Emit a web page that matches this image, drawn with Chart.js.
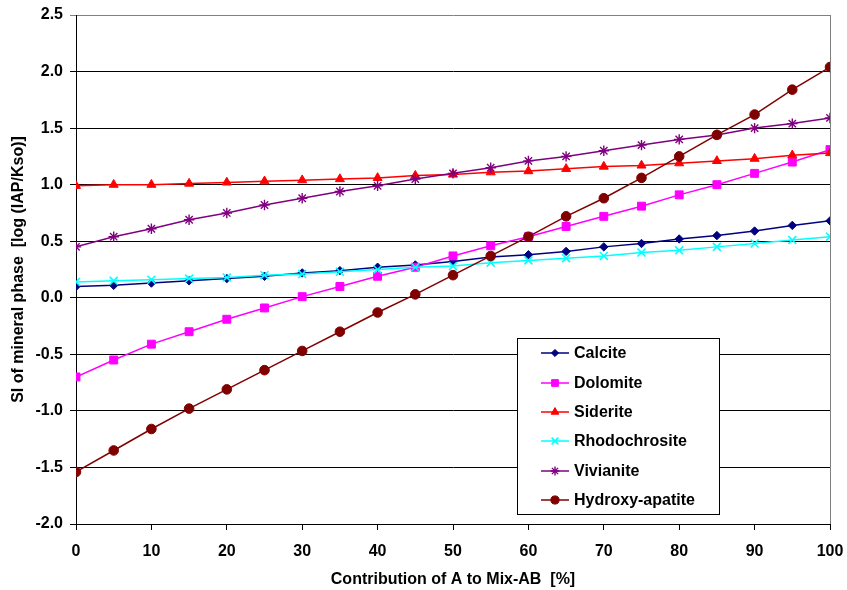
<!DOCTYPE html>
<html>
<head>
<meta charset="utf-8">
<script src="https://cdn.jsdelivr.net/npm/chart.js@4/dist/chart.umd.min.js"></script>
<style>
  html, body { margin: 0; padding: 0; background: #fff; }
  #wrap { width: 847px; height: 590px; position: relative; }
</style>
</head>
<body>
<div id="wrap"><canvas id="c" width="847" height="590"></canvas></div>
<script>
// Mixing proportion of water A in mix AB (%)
const contribution = [0, 5, 10, 15, 20, 25, 30, 35, 40, 45, 50, 55, 60, 65, 70, 75, 80, 85, 90, 95, 100];

// Saturation indices, log(IAP/Kso)
const calcite       = [0.10, 0.11, 0.13, 0.15, 0.17, 0.19, 0.22, 0.24, 0.27, 0.29, 0.32, 0.36, 0.38, 0.41, 0.45, 0.48, 0.52, 0.55, 0.59, 0.64, 0.68];
const dolomite      = [-0.70, -0.55, -0.41, -0.30, -0.19, -0.09, 0.01, 0.10, 0.19, 0.27, 0.37, 0.46, 0.54, 0.63, 0.72, 0.81, 0.91, 1.00, 1.10, 1.20, 1.31];
const siderite      = [0.99, 1.00, 1.00, 1.01, 1.02, 1.03, 1.04, 1.05, 1.06, 1.08, 1.09, 1.11, 1.12, 1.14, 1.16, 1.17, 1.19, 1.21, 1.23, 1.26, 1.28];
const rhodochrosite = [0.14, 0.15, 0.16, 0.17, 0.18, 0.20, 0.21, 0.23, 0.25, 0.27, 0.28, 0.31, 0.33, 0.35, 0.37, 0.40, 0.42, 0.45, 0.48, 0.51, 0.54];
const vivianite     = [0.45, 0.54, 0.61, 0.69, 0.75, 0.82, 0.88, 0.94, 0.99, 1.05, 1.10, 1.15, 1.21, 1.25, 1.30, 1.35, 1.40, 1.44, 1.50, 1.54, 1.59];
const hydroxyApatite = [-1.54, -1.35, -1.16, -0.98, -0.81, -0.64, -0.47, -0.30, -0.13, 0.03, 0.20, 0.37, 0.54, 0.72, 0.88, 1.06, 1.25, 1.44, 1.62, 1.84, 2.04];

const seriesNames = ['Calcite', 'Dolomite', 'Siderite', 'Rhodochrosite', 'Vivianite', 'Hydroxy-apatite'];
const seriesValues = [calcite, dolomite, siderite, rhodochrosite, vivianite, hydroxyApatite];

const xTicks = [0, 10, 20, 30, 40, 50, 60, 70, 80, 90, 100];
const yTicks = [-2.0, -1.5, -1.0, -0.5, 0.0, 0.5, 1.0, 1.5, 2.0, 2.5];

const styles = [
  { color: '#000080', pointStyle: 'rectRot', radius: 4.2, bw: 1 },
  { color: '#FF00FF', pointStyle: 'rect',    radius: 5.6, bw: 1 },
  { color: '#FF0000', pointStyle: 'triangle',radius: 5.2, bw: 1 },
  { color: '#00FFFF', pointStyle: 'crossRot',radius: 5.6, bw: 1.6 },
  { color: '#800080', pointStyle: 'star',    radius: 5.2, bw: 1.4 },
  { color: '#800000', pointStyle: 'circle',  radius: 4.8, bw: 1 }
];

const FONT = "'Liberation Sans', Arial, sans-serif";
const FONT_SIZE = 16;

const datasets = seriesNames.map((name, i) => ({
  label: name,
  data: contribution.map((x, k) => ({ x: x, y: seriesValues[i][k] })),
  borderColor: styles[i].color,
  backgroundColor: styles[i].color,
  pointBackgroundColor: styles[i].color,
  pointBorderColor: styles[i].color,
  pointStyle: styles[i].pointStyle,
  pointRadius: styles[i].radius,
  pointBorderWidth: styles[i].bw,
  borderWidth: 1.5,
  tension: 0,
  order: seriesNames.length - 1 - i
}));

// Right-hand border of the plot area
const frame = {
  id: 'frame',
  afterDatasetsDraw(chart) {
    const { ctx, chartArea: a } = chart;
    ctx.save();
    ctx.strokeStyle = '#808080';
    ctx.lineWidth = 1;
    ctx.beginPath();
    ctx.moveTo(Math.round(a.right) + 0.5, a.top);
    ctx.lineTo(Math.round(a.right) + 0.5, a.bottom);
    ctx.stroke();
    ctx.restore();
  }
};

// Boxed legend inside the lower-right part of the plot
const boxLegend = {
  id: 'boxLegend',
  afterDraw(chart) {
    const ctx = chart.ctx;
    const x0 = 517.5, y0 = 338.5, w = 202, h = 176;
    ctx.save();
    ctx.fillStyle = '#ffffff';
    ctx.fillRect(x0, y0, w, h);
    ctx.strokeStyle = '#000000';
    ctx.lineWidth = 1;
    ctx.strokeRect(x0, y0, w, h);
    const rowY = [353, 383, 412, 441, 471, 500];
    ctx.font = 'bold ' + FONT_SIZE + 'px ' + FONT;
    ctx.textBaseline = 'middle';
    ctx.textAlign = 'left';
    chart.data.datasets.forEach((ds, i) => {
      const y = rowY[i];
      ctx.strokeStyle = ds.borderColor;
      ctx.lineWidth = 1.5;
      ctx.beginPath();
      ctx.moveTo(541, y);
      ctx.lineTo(569, y);
      ctx.stroke();
      ctx.fillStyle = ds.borderColor;
      ctx.strokeStyle = ds.borderColor;
      const opts = {
        pointStyle: ds.pointStyle,
        radius: ds.pointRadius * 0.85,
        borderWidth: ds.pointBorderWidth,
        rotation: 0
      };
      ctx.lineWidth = ds.pointBorderWidth;
      if (Chart.helpers && Chart.helpers.drawPoint) {
        Chart.helpers.drawPoint(ctx, opts, 555, y);
      } else {
        ctx.beginPath();
        ctx.arc(555, y, 3.5, 0, Math.PI * 2);
        ctx.fill();
      }
      ctx.fillStyle = '#000000';
      ctx.fillText(ds.label, 574, y + 1);
    });
    ctx.restore();
  }
};

new Chart(document.getElementById('c'), {
  type: 'line',
  data: { datasets: datasets },
  options: {
    responsive: false,
    animation: false,
    devicePixelRatio: 1,
    layout: { padding: { top: 15, right: 17, left: 0, bottom: 0 } },
    plugins: { legend: { display: false }, tooltip: { enabled: false } },
    scales: {
      x: {
        type: 'linear',
        min: 0, max: 100,
        afterFit(s) { s.height = 66; s.paddingLeft = 0; s.paddingRight = 0; },
        afterBuildTicks(s) { s.ticks = xTicks.map(v => ({ value: v })); },
        border: { display: true, color: '#000000', width: 1 },
        grid: { drawOnChartArea: false, drawTicks: true, tickLength: 6, color: '#000000' },
        ticks: {
          color: '#000000',
          font: { family: FONT, size: FONT_SIZE, weight: 'bold' },
          padding: 12,
          maxRotation: 0,
          callback: v => String(v)
        },
        title: {
          display: true,
          text: 'Contribution of A to Mix-AB  [%]',
          color: '#000000',
          font: { family: FONT, size: FONT_SIZE, weight: 'bold' },
          padding: { top: 4, bottom: 1 }
        }
      },
      y: {
        type: 'linear',
        min: -2, max: 2.5,
        afterFit(s) { s.width = 76; s.paddingTop = 0; s.paddingBottom = 0; },
        afterBuildTicks(s) { s.ticks = yTicks.map(v => ({ value: v })); },
        border: { display: true, color: '#000000', width: 1 },
        grid: {
          drawOnChartArea: true,
          drawTicks: true,
          tickLength: 6,
          color: ctx => (ctx.tick && ctx.tick.value === 2.5) ? '#808080' : '#000000',
          lineWidth: 1
        },
        ticks: {
          color: '#000000',
          font: { family: FONT, size: FONT_SIZE, weight: 'bold' },
          padding: 7,
          callback: v => Number(v).toFixed(1)
        },
        title: {
          display: true,
          text: 'SI of mineral phase  [log (IAP/Kso)]',
          color: '#000000',
          font: { family: FONT, size: FONT_SIZE, weight: 'bold' },
          padding: { top: 9, bottom: 4 }
        }
      }
    }
  },
  plugins: [frame, boxLegend]
});
</script>
</body>
</html>
